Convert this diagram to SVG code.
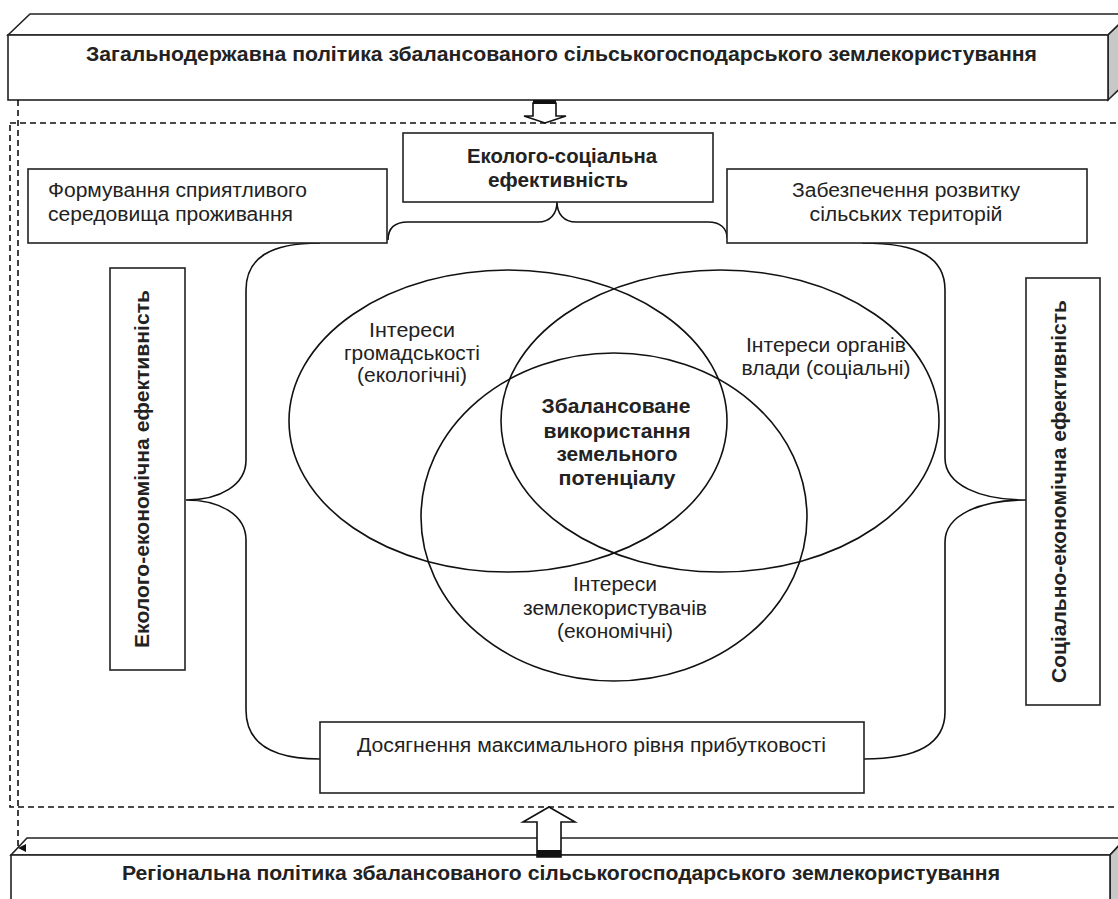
<svg xmlns="http://www.w3.org/2000/svg" width="1118" height="899" viewBox="0 0 1118 899">
<style>
.box{fill:#fff;stroke:#222;stroke-width:1.6}
.t{font-family:"Liberation Sans",Arial,sans-serif;font-size:20px;fill:#222}
.b{font-weight:bold}
.c{fill:none;stroke:#111;stroke-width:1.6}
.d{fill:none;stroke:#111;stroke-width:1.6;stroke-dasharray:6 4}
.side{fill:#c8c8c8;stroke:#222;stroke-width:1.6}
.arr{fill:#fff;stroke:#111;stroke-width:1.6}
</style>
<defs>
<marker id="ah" markerWidth="10" markerHeight="10" refX="5" refY="9" orient="auto" markerUnits="userSpaceOnUse">
<path d="M1,1 L5,9 L9,1 Z" fill="#111"/>
</marker>
</defs>
<rect width="1118" height="899" fill="#fff"/>

<g id="container">
<rect class="d" x="10" y="123" width="1120" height="684"/>
</g>

<g id="top-policy">
<polygon class="box" points="8,35 30,14 1130,14 1108,35"/>
<polygon class="side" points="1108,35 1130,14 1130,79 1108,100"/>
<rect class="box" x="8" y="35" width="1100" height="65"/>
<text class="t b" x="561.5" y="61" text-anchor="middle" textLength="951" lengthAdjust="spacingAndGlyphs">Загальнодержавна політика збалансованого сільськогосподарського землекористування</text>
</g>

<g id="bottom-policy">
<polygon class="box" points="11,855 27,838 1126,838 1110,855"/>
<polygon class="side" points="1110,855 1126,838 1126,910 1110,910"/>
<rect class="box" x="11" y="855" width="1099" height="60"/>
<text class="t b" x="561" y="880" text-anchor="middle" textLength="878" lengthAdjust="spacingAndGlyphs">Регіональна політика збалансованого сільськогосподарського землекористування</text>
</g>

<g id="connectors">
<line class="d" x1="18" y1="100" x2="18" y2="848" marker-end="url(#ah)"/>
<polygon class="arr" points="533,103 556,103 556,116 566,116 545,123 524,116 533,116"/>
<rect x="533" y="100" width="23" height="4" fill="#111"/>
<polygon class="arr" points="537,857 561,857 561,822 575,822 549,807 523,822 537,822"/>
<rect x="537" y="850" width="24" height="7" fill="#111"/>
<path class="c" d="M388,240 C388,228 395,222 408,222 L538,222 C550,222 557,214 557,202 C557,214 564,222 576,222 L708,222 C720,222 727,228 727,238"/>
<path class="c" d="M320,243 C270,243 246,258 246,290 L246,460 C246,485 220,500 186,500 C220,500 246,515 246,540 L246,710 C246,742 270,759 320,759"/>
<path class="c" d="M862,243 C920,243 945,258 945,290 L945,458 C945,485 980,500 1026,500 C980,500 945,515 945,542 L945,712 C945,742 920,759 864,759"/>
</g>

<g id="venn">
<ellipse class="c" cx="508" cy="421" rx="219" ry="151"/>
<ellipse class="c" cx="720" cy="421" rx="219" ry="151"/>
<ellipse class="c" cx="614" cy="517" rx="193" ry="164"/>
</g>

<g id="community">
<text class="t" text-anchor="middle"><tspan x="412" y="337" textLength="86" lengthAdjust="spacingAndGlyphs">Інтереси</tspan><tspan x="412" y="360" textLength="136" lengthAdjust="spacingAndGlyphs">громадськості</tspan><tspan x="412" y="382" textLength="110" lengthAdjust="spacingAndGlyphs">(екологічні)</tspan></text>
</g>
<g id="authorities">
<text class="t" text-anchor="middle"><tspan x="826" y="352" textLength="160" lengthAdjust="spacingAndGlyphs">Інтереси органів</tspan><tspan x="826" y="375" textLength="169" lengthAdjust="spacingAndGlyphs">влади (соціальні)</tspan></text>
</g>
<g id="landusers">
<text class="t" text-anchor="middle"><tspan x="615" y="591" textLength="84" lengthAdjust="spacingAndGlyphs">Інтереси</tspan><tspan x="615" y="615" textLength="184" lengthAdjust="spacingAndGlyphs">землекористувачів</tspan><tspan x="615" y="638" textLength="116" lengthAdjust="spacingAndGlyphs">(економічні)</tspan></text>
</g>
<g id="balanced">
<text class="t b" text-anchor="middle"><tspan x="616" y="413" textLength="149" lengthAdjust="spacingAndGlyphs">Збалансоване</tspan><tspan x="617" y="438" textLength="147" lengthAdjust="spacingAndGlyphs">використання</tspan><tspan x="617" y="461" textLength="121" lengthAdjust="spacingAndGlyphs">земельного</tspan><tspan x="617" y="485" textLength="117" lengthAdjust="spacingAndGlyphs">потенціалу</tspan></text>
</g>

<g id="forming">
<rect class="box" x="28" y="169" width="359" height="74"/>
<text class="t"><tspan x="48" y="197" textLength="259" lengthAdjust="spacingAndGlyphs">Формування сприятливого</tspan><tspan x="48" y="221" textLength="245" lengthAdjust="spacingAndGlyphs">середовища проживання</tspan></text>
</g>
<g id="eco-social">
<rect class="box" x="403" y="133" width="310" height="69"/>
<text class="t b" text-anchor="middle"><tspan x="562" y="163" textLength="190" lengthAdjust="spacingAndGlyphs">Еколого-соціальна</tspan><tspan x="558" y="187" textLength="140" lengthAdjust="spacingAndGlyphs">ефективність</tspan></text>
</g>
<g id="rural">
<rect class="box" x="727" y="169" width="360" height="74"/>
<text class="t" text-anchor="middle"><tspan x="906" y="197" textLength="228" lengthAdjust="spacingAndGlyphs">Забезпечення розвитку</tspan><tspan x="906" y="221" textLength="193" lengthAdjust="spacingAndGlyphs">сільських територій</tspan></text>
</g>
<g id="profit">
<rect class="box" x="320" y="722" width="544" height="71"/>
<text class="t" x="591.5" y="752" text-anchor="middle" textLength="469" lengthAdjust="spacingAndGlyphs">Досягнення максимального рівня прибутковості</text>
</g>
<g id="eco-economic">
<rect class="box" x="110" y="268" width="75" height="402"/>
<text class="t b" transform="translate(149,469) rotate(-90)" x="0" y="0" text-anchor="middle" textLength="358" lengthAdjust="spacingAndGlyphs">Еколого-економічна ефективність</text>
</g>
<g id="socio-economic">
<rect class="box" x="1026" y="278" width="74" height="427"/>
<text class="t b" transform="translate(1066,491.5) rotate(-90)" x="0" y="0" text-anchor="middle" textLength="383" lengthAdjust="spacingAndGlyphs">Соціально-економічна ефективність</text>
</g>
</svg>
